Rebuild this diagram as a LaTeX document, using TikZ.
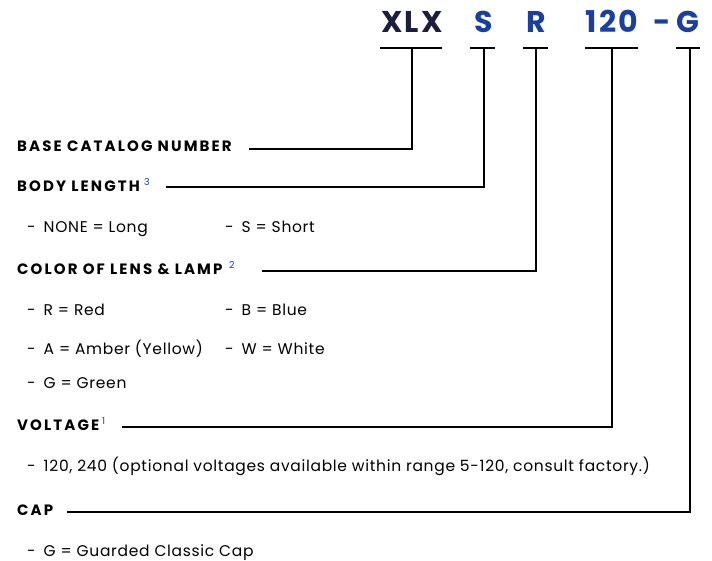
\documentclass[tikz,border=0pt]{standalone}
\usepackage{fontspec}
\setmainfont{Poppins}
\newfontfamily\hdrfont[LetterSpace=14]{Poppins}
\newfontfamily\itemfont[LetterSpace=4.5]{Poppins}
\newfontfamily\codefont[LetterSpace=8]{Poppins}
\definecolor{navy}{HTML}{1C1F3B}
\definecolor{codeblue}{HTML}{1B3F9E}
\begin{document}
\begin{tikzpicture}[x=1pt,y=-1pt,
  code/.style={anchor=base,inner sep=0pt,font=\codefont\bfseries\fontsize{30}{30}\selectfont},
  hdr/.style={anchor=base west,inner sep=0pt,font=\hdrfont\bfseries\fontsize{15}{16}\selectfont},
  item/.style={anchor=base west,inner sep=0pt,font=\itemfont\fontsize{15.5}{16}\selectfont},
  sup/.style={anchor=base west,inner sep=0pt,text=codeblue,font=\fontsize{9.5}{10}\selectfont},
  wire/.style={line width=1.4pt,black}]
\useasboundingbox (0,0) rectangle (712,561);
% code letters
\node[code,text=navy] (xlx) at (412,33) {XLX};
\node[code,text=codeblue] (s) at (484,33) {S};
\node[code,text=codeblue] (r) at (536,33) {R};
\node[code,text=codeblue] (v) at (612,33) {120};
\node[code,text=codeblue] (dash) at (662,33) {-};
\node[code,text=codeblue] (g) at (688,33) {G};
% bars
\coordinate (xlxA) at (380,48); \coordinate (xlxB) at (442,48); \coordinate (xlxT) at (412,48);
\coordinate (sA) at (470,48); \coordinate (sB) at (495,48); \coordinate (sT) at (484,48);
\coordinate (rA) at (523,48); \coordinate (rB) at (548,48); \coordinate (rT) at (536,48);
\coordinate (vA) at (585,48); \coordinate (vB) at (638,48); \coordinate (vT) at (612,48);
\coordinate (gA) at (676,48); \coordinate (gB) at (700,48); \coordinate (gT) at (690,48);
\foreach \n in {xlx,s,r,v,g} {\draw[wire] (\n A) -- (\n B);}
% headers
\node[hdr] (base) at (17,152) {BASE CATALOG NUMBER};
\node[hdr] (body) at (17,192) {BODY LENGTH};
\node[sup] (bodysup) at (144,186) {3};
\node[hdr] (color) at (17,275) {COLOR OF LENS \& LAMP};
\node[sup] (colorsup) at (229,269) {2};
\node[hdr] (volt) at (17,430) {VOLTAGE};
\node[sup] (voltsup) at (102,424) {1};
\node[hdr] (cap) at (17,515) {CAP};
% items
\node[item] (i1) at (27,233) {-\hspace{8pt}NONE = Long};
\node[item] (i2) at (225,233) {-\hspace{8pt}S = Short};
\node[item] (i3) at (27,316) {-\hspace{8pt}R = Red};
\node[item] (i4) at (225,316) {-\hspace{8pt}B = Blue};
\node[item] (i5) at (27,354) {-\hspace{8pt}A = Amber (Yellow)};
\node[item] (i6) at (225,354) {-\hspace{8pt}W = White};
\node[item] (i7) at (27,388) {-\hspace{8pt}G = Green};
\node[item] (i8) at (27,471) {-\hspace{8pt}120, 240 (optional voltages available within range 5-120, consult factory.)};
\node[item] (i9) at (27,556) {-\hspace{8pt}G = Guarded Classic Cap};
% connectors
\coordinate (baseL) at (249,149);
\coordinate (bodyL) at (166,187);
\coordinate (colorL) at (262,271);
\coordinate (voltL) at (122,427);
\coordinate (capL) at (67,512);
\draw[wire] (baseL) -| (xlxT);
\draw[wire] (bodyL) -| (sT);
\draw[wire] (colorL) -| (rT);
\draw[wire] (voltL) -| (vT);
\draw[wire] (capL) -| (gT);
\end{tikzpicture}
\end{document}
